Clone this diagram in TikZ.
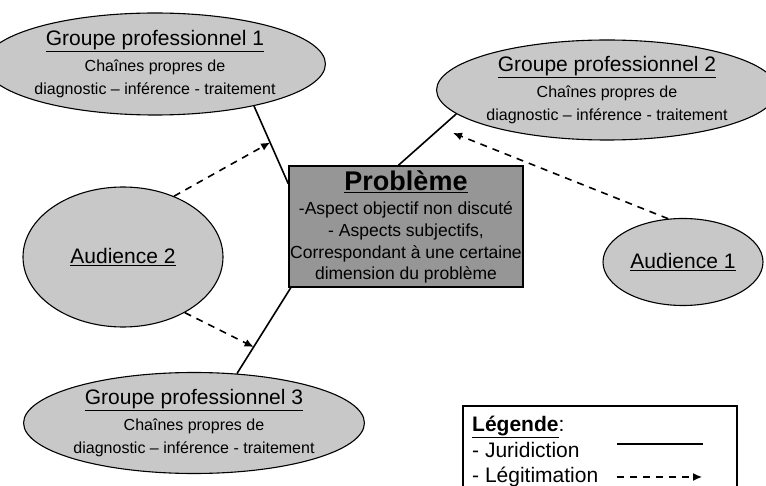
\documentclass[tikz,border=0pt]{standalone}
\usepackage{fontspec}
\setmainfont{Liberation Sans}
\usetikzlibrary{arrows.meta,shapes.geometric}
\definecolor{ellgray}{RGB}{200,200,200}
\definecolor{boxgray}{RGB}{150,150,150}
\newcommand\titfont{\fontsize{21}{24}\selectfont}
\newcommand\subfont{\fontsize{16}{22}\selectfont}
\newcommand\probfont{\fontsize{17.5}{20}\selectfont}
\tikzset{grp/.style={ellipse,draw,line width=1.1pt,fill=ellgray,inner sep=0pt,align=center,font=\subfont},
  aud/.style={grp,font=\titfont},
  probbox/.style={draw,line width=1.5pt,fill=boxgray,inner sep=0pt,align=center,font=\probfont},
  legtxt/.style={anchor=base west,inner sep=0pt,font=\titfont},
  jurid/.style={line width=1.6pt},
  legit/.style={line width=1.6pt,dash pattern=on 7pt off 6pt,-{Latex[length=9pt,width=8pt]}}}
\begin{document}
\begin{tikzpicture}[x=1pt,y=-1pt]
\useasboundingbox (0,0) rectangle (766,486);
\clip (0,0) rectangle (766,486);
\node[grp,minimum width=297pt,minimum height=102pt] (g1) at (155,64) {{\titfont\underline{Groupe professionnel 1}}\\[4pt]Chaînes propres de\\[1pt]diagnostic – inférence - traitement};
\node[grp,minimum width=312pt,minimum height=100pt] (g2) at (607,90) {{\titfont\underline{Groupe professionnel 2}}\\[4pt]Chaînes propres de\\[1pt]diagnostic – inférence - traitement};
\node[grp,minimum width=278pt,minimum height=101pt] (g3) at (194,423) {{\titfont\underline{Groupe professionnel 3}}\\[4pt]Chaînes propres de\\[1pt]diagnostic – inférence - traitement};
\node[aud,minimum width=200pt,minimum height=140pt] (aud2) at (123,257) {\underline{Audience 2}};
\node[aud,minimum width=160pt,minimum height=87pt] (aud1) at (683,262) {\underline{Audience 1}};
\node[probbox,minimum width=234pt,minimum height=121pt] (prob) at (406,226.5) {{\fontsize{27}{30}\selectfont\bfseries\underline{Problème}}\\[4pt]-Aspect objectif non discuté\\[2pt]- Aspects subjectifs,\\[2pt]Correspondant à une certaine\\[1pt]dimension du problème};
% juridiction
\draw[jurid] (g1.-23) -- coordinate[pos=0.47] (t1) (prob.160);
\draw[jurid] (g2.189) -- (prob.97);
\draw[jurid] (prob.208) -- coordinate[pos=0.69] (t3) (g3.49);
\coordinate (t2) at (453,133);
% legitimation
\draw[legit] (aud2.50) -- (t1);
\draw[legit] (aud2.-42) -- (t3);
\draw[legit] (aud1.109) -- (t2);
% legende
\draw[line width=1.2pt] (463,406) rectangle (737,500);
\node[legtxt] (legtit) at (472,431) {\textbf{\underline{Légende}}:};
\node[legtxt] (legjur) at (472,457) {- Juridiction};
\node[legtxt] (leglgt) at (472,482) {- Légitimation};
\coordinate (jurA) at (617,444); \coordinate (jurB) at (703,444);
\coordinate (lgtA) at (617,477); \coordinate (lgtB) at (702,477);
\draw[line width=1.3pt] (jurA) -- (jurB);
\draw[legit,line width=1.3pt] (lgtA) -- (lgtB);
\end{tikzpicture}
\end{document}
